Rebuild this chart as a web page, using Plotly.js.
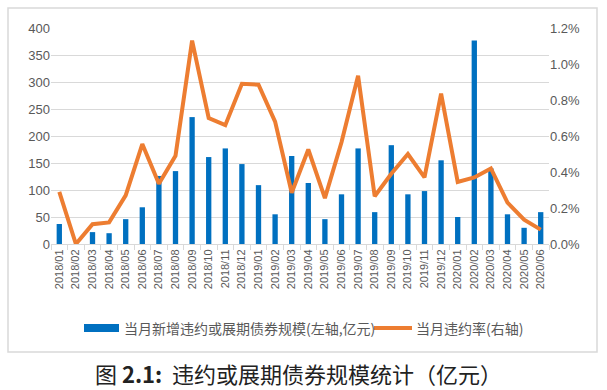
<!DOCTYPE html>
<html><head><meta charset="utf-8">
<script src="https://cdn.plot.ly/plotly-3.0.1.min.js"></script>
<style>html,body{margin:0;padding:0;background:#fff;}#chart{width:607px;height:390px;}</style>
</head><body><div id="chart"></div>
<script>
const months = ["2018/01","2018/02","2018/03","2018/04","2018/05","2018/06","2018/07","2018/08","2018/09","2018/10","2018/11","2018/12",
"2019/01","2019/02","2019/03","2019/04","2019/05","2019/06","2019/07","2019/08","2019/09","2019/10","2019/11","2019/12",
"2020/01","2020/02","2020/03","2020/04","2020/05","2020/06"];
const newDefault = [37,0,22,20,46,68,126,135,235,161,177,148,109,55,163,113,46,92,177,59,183,92,98,155,50,377,140,55,30,59];
const defaultRate = [0.29,0.0,0.11,0.12,0.27,0.555,0.335,0.49,1.13,0.70,0.66,0.89,0.885,0.68,0.285,0.525,0.255,0.565,0.935,0.265,0.39,0.50,0.37,0.835,0.345,0.37,0.42,0.23,0.135,0.08];
const leftTicks = [0,50,100,150,200,250,300,350,400];
const rightTicks = [0,0.2,0.4,0.6,0.8,1.0,1.2];
const rightTickText = rightTicks.map(v => v.toFixed(1) + '%');
const barName = '当月新增违约或展期债券规模(左轴,亿元)';
const lineName = '当月违约率(右轴)';
const caption = '图 <b>2.1:</b>  违约或展期债券规模统计（亿元）';

const grey = '#595959';
const blue = '#0070C0', orange = '#ED7D31';
// pixel -> paper helpers (plot area: x 51..549, y 28..244)
const px = v => (v - 51) / 498;
const py = v => (244 - v) / 216;

const traces = [
 {type:'bar', x:months, y:newDefault, name:barName, marker:{color:blue}, yaxis:'y'},
 {type:'scatter', mode:'lines', x:months, y:defaultRate, name:lineName, line:{color:orange, width:4}, yaxis:'y2'}
];
const layout = {
 width:607, height:390,
 margin:{l:51, r:58, t:28, b:146},
 paper_bgcolor:'#fff', plot_bgcolor:'#fff',
 font:{family:'Noto Sans CJK SC, Noto Sans, sans-serif', color:grey, size:12},
 bargap:0.68,
 showlegend:false,
 xaxis:{type:'category', tickangle:-90, tickfont:{size:11, family:'Liberation Sans, Arial, sans-serif', color:grey},
   showline:true, linecolor:'#d9d9d9', linewidth:1, ticks:'outside', tickson:'boundaries', ticklen:5, tickcolor:'#d9d9d9', showgrid:false, automargin:false},
 yaxis:{range:[0,400], tickvals:leftTicks, showgrid:true, gridcolor:'#d9d9d9', zeroline:false,
   tickfont:{size:13, family:'Liberation Sans, Arial, sans-serif', color:grey}, ticks:'', automargin:false},
 yaxis2:{range:[0,1.2], tickvals:rightTicks, ticktext:rightTickText, overlaying:'y', side:'right', showgrid:false, zeroline:false,
   tickfont:{size:13, family:'Liberation Sans, Arial, sans-serif', color:grey}, automargin:false},
 shapes:[
  {type:'rect', xref:'paper', yref:'paper', x0:px(8), x1:px(597), y0:py(352), y1:py(8), line:{color:'#d9d9d9', width:1.5}, fillcolor:'rgba(0,0,0,0)'},
  {type:'rect', xref:'paper', yref:'paper', x0:px(84), x1:px(119), y0:py(332), y1:py(324), line:{width:0}, fillcolor:blue},
  {type:'line', xref:'paper', yref:'paper', x0:px(374), x1:px(412), y0:py(328), y1:py(328), line:{color:orange, width:4}}
 ],
 annotations:[
  {xref:'paper', yref:'paper', x:px(122), y:py(328), xanchor:'left', yanchor:'middle', showarrow:false,
   text:barName, font:{size:14, color:grey}},
  {xref:'paper', yref:'paper', x:px(414), y:py(328), xanchor:'left', yanchor:'middle', showarrow:false,
   text:lineName, font:{size:14, color:grey}},
  {xref:'paper', yref:'paper', x:px(298), y:py(373), xanchor:'center', yanchor:'middle', showarrow:false,
   text:caption, font:{size:22, color:'#222', family:'Noto Sans CJK SC, sans-serif'}}
 ]
};
Plotly.newPlot('chart', traces, layout, {displayModeBar:false, staticPlot:true});
</script></body></html>
